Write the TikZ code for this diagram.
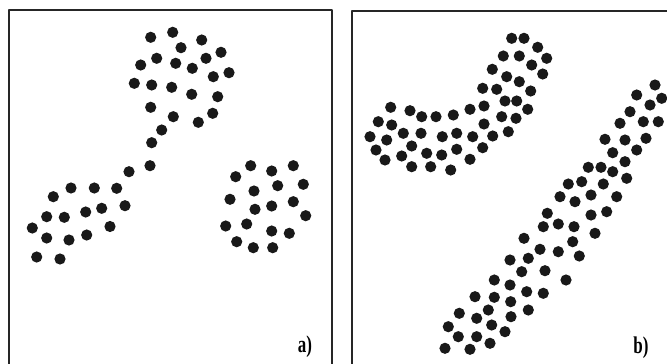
\documentclass[tikz,border=0pt]{standalone}
\usepackage{fontspec}
\setmainfont{Liberation Serif}

\begin{document}
\begin{tikzpicture}[line join=round, line cap=round, x=1pt, y=-1pt]
\tikzset{every node/.style={font=\fontsize{20}{20}\selectfont\bfseries, xscale=0.85, yscale=1.2, inner sep=0pt},
  frame/.style={draw=black!85, line width=2pt},
  pt/.style={fill=black!90}}
\clip (0,0) rectangle (667,364);
\fill[white] (0,0) rectangle (667,364);
\draw[frame] (9,9.5) rectangle (332,372);
\draw[frame] (351.5,11) rectangle (672,372);
% a)
\foreach \x/\y in {150.7/37.3, 172.7/32.3, 201.7/40, 181/47.7, 156.7/58.3, 206/58.3, 221/52.3,
  140.7/65, 175.7/63.3, 192.3/68.3, 213.3/76.7, 229/72.7, 134.3/83.3, 151.7/85, 171.7/87.3,
  191.7/94.3, 217.7/96.7, 150.7/107.3, 173.3/116.7, 198.3/122.3, 212.7/113.3, 161.7/130,
  151.7/142.7, 150/165.7, 129/171.7}
  \fill[pt] (\x,\y) circle (5.6);
\foreach \x/\y in {71/188, 94.3/188, 116.7/188.3, 53.3/196.7, 125/205.7, 101.7/208.3, 85.7/212,
  46.7/216.7, 64.3/217.3, 32.3/228, 110/226.5, 86.7/235, 69/240, 46.7/238, 36.7/257, 60/259}
  \fill[pt] (\x,\y) circle (5.6);
\foreach \x/\y in {250.7/165.7, 293.3/165.7, 271.7/171, 235.7/176.7, 303.3/184.3, 277.7/185.7,
  254/191, 230/199.3, 293.3/201.7, 271.7/206, 255/209.3, 305.7/215.7, 225.7/226, 246.7/224,
  271.7/231, 289.3/233.3, 236.7/241.7, 253.3/247.7, 272.7/247.7}
  \fill[pt] (\x,\y) circle (5.6);
\node (la) at (305,347) {a)};
% b)
\foreach \x/\y in {511.7/38.3, 524/38.3, 537.7/47.3, 503.3/56, 519.3/56, 546.7/58.3, 531.7/65,
  492.3/69.3, 542.7/74, 506.7/76.7, 519.3/81.7, 482.7/88.3, 496.7/89.3, 530.7/91, 505/101,
  516.7/101, 484/106, 390.7/107.3, 470/109.3, 527.7/109.3, 410/110.7, 453.3/115, 436/116.7,
  421.7/116.7, 501.7/116.7, 516/118.3, 378.3/121.7, 484/124, 391.7/125, 508.3/131.7,
  403.3/133.3, 421/133.3, 456.7/133.3, 492.7/136, 370/136.7, 442.3/136.7, 472.7/136.7,
  386.7/140, 411.7/146, 482.7/147.7, 456.7/149.3, 376/150, 426.7/153.3, 441.7/155,
  401.7/156, 470/159.3, 385/160, 411.7/166.7, 430.7/166.7, 450.7/170}
  \fill[pt] (\x,\y) circle (5.6);
\foreach \x/\y in {655/85, 661.7/98.3, 636.7/95, 650/105, 630/111.7, 643.3/121.7, 658.3/121.7,
  620/123.3, 605/139.3, 625/140, 646/138.3, 612.7/152.7, 636.7/150, 625/161.7, 588.3/167.3,
  601/167.3, 612.7/171.7, 626.7/178.3, 568.3/184, 581.7/181.7, 603.3/184, 560/196.7,
  575/201.7, 591/195, 616.7/196.7, 547.3/213.3, 591/215, 606.7/211.7, 543.3/226.7,
  558.3/224, 574/226.7, 595/233.3, 572.7/241.7, 524/238.3, 540/249.3, 558.3/251.7,
  579.3/256, 510/260, 528.3/258.3, 521.7/271.7, 545/270.7, 566/280, 494.3/280, 510/285,
  526.7/291.7, 543.3/293.3, 475/296.7, 494.3/297.3, 510.7/301.7, 488.3/310, 528.3/310,
  459.3/313.3, 476.7/318.3, 511/316.7, 491.7/325, 505/331.7, 448.3/326.7, 458.3/336.7,
  476.7/336.7, 490/343.3, 445/348.3, 470/349.3}
  \fill[pt] (\x,\y) circle (5.6);
\node (lb) at (641,348) {b)};
\end{tikzpicture}
\end{document}
